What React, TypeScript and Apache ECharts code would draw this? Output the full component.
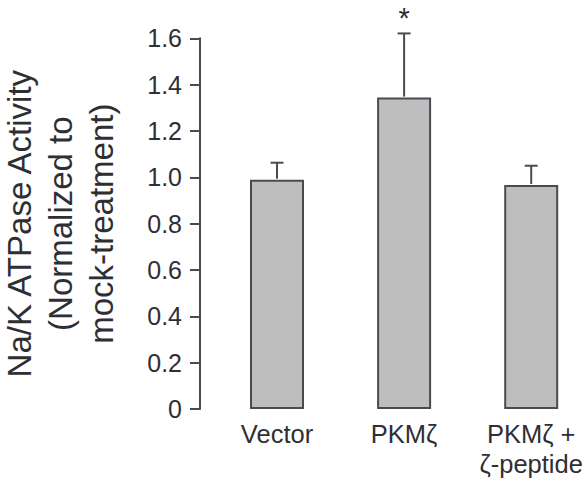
import React, { useEffect, useRef } from "react";
import * as echarts from "echarts";

const categories = ["Vector", "PKMζ", "PKMζ +\nζ-peptide"];
const meanValues = [0.99, 1.344, 0.967];
const errorTops = [1.063, 1.621, 1.05];
const significance = ["", "*", ""];
const yTicks = [0, 0.2, 0.4, 0.6, 0.8, 1.0, 1.2, 1.4, 1.6];

const FONT = "'Liberation Sans', Arial, Helvetica, sans-serif";
const TEXT = "#2f2f33";
const AXIS = "#4a4a52";

export default function App() {
  const ref = useRef<HTMLDivElement>(null);
  useEffect(() => {
    if (!ref.current) return;
    const chart = echarts.init(ref.current, undefined, { renderer: "svg" });
    const errData = categories.map((_, i) => [i, meanValues[i], errorTops[i], significance[i]]);
    chart.setOption({
      animation: false,
      backgroundColor: "#ffffff",
      grid: {
        left: 213.45,
        right: -7.75,
        top: 38.3,
        bottom: 73,
        containLabel: false,
        outerBoundsMode: "none",
      },
      xAxis: {
        type: "category",
        data: categories,
        axisLine: { show: false },
        axisTick: { show: false },
        axisLabel: {
          interval: 0,
          margin: 10,
          fontSize: 25.5,
          lineHeight: 30,
          color: TEXT,
          fontFamily: FONT,
        },
      },
      yAxis: {
        type: "value",
        min: yTicks[0],
        max: yTicks[yTicks.length - 1],
        interval: 0.2,
        offset: 13.45,
        splitLine: { show: false },
        axisLine: { show: true, lineStyle: { color: AXIS, width: 2 } },
        axisTick: { show: true, length: 10, lineStyle: { color: AXIS, width: 2 } },
        axisLabel: {
          margin: 18,
          fontSize: 25,
          color: TEXT,
          fontFamily: FONT,
          formatter: (v: number) => (v === 0 ? "0" : v.toFixed(1)),
        },
        name: "Na/K ATPase Activity\n(Normalized to\nmock-treatment)",
        nameLocation: "middle",
        nameRotate: 90,
        nameGap: 78,
        nameTextStyle: {
          fontSize: 33,
          lineHeight: 41,
          color: TEXT,
          fontFamily: FONT,
        },
      },
      series: [
        {
          type: "bar",
          data: meanValues,
          barWidth: 54,
          itemStyle: { color: "#bebebe", borderColor: AXIS, borderWidth: 2 },
          z: 2,
        },
        {
          type: "custom",
          data: errData,
          encode: { x: 0, y: [1, 2] },
          z: 3,
          renderItem: (params: any, api: any) => {
            const idx = api.value(0);
            const top = api.coord([idx, api.value(2)]);
            const base = api.coord([idx, api.value(1)]);
            const sig = significance[params.dataIndex];
            const half = 6.5;
            const children: any[] = [
              {
                type: "line",
                shape: { x1: top[0], y1: top[1], x2: base[0], y2: base[1] - 1 },
                style: { stroke: AXIS, lineWidth: 2 },
              },
              {
                type: "line",
                shape: { x1: top[0] - half, y1: top[1], x2: top[0] + half, y2: top[1] },
                style: { stroke: AXIS, lineWidth: 2 },
              },
            ];
            if (sig) {
              children.push({
                type: "text",
                style: {
                  text: sig,
                  x: top[0],
                  y: top[1] - 1,
                  align: "center",
                  verticalAlign: "bottom",
                  fontSize: 29,
                  fontFamily: FONT,
                  fill: TEXT,
                },
              });
            }
            return { type: "group", children };
          },
        },
      ],
    });
    return () => chart.dispose();
  }, []);
  return (
    <div
      ref={ref}
      style={{ position: "fixed", left: 0, top: 0, width: 587, height: 482, background: "#fff" }}
    />
  );
}
